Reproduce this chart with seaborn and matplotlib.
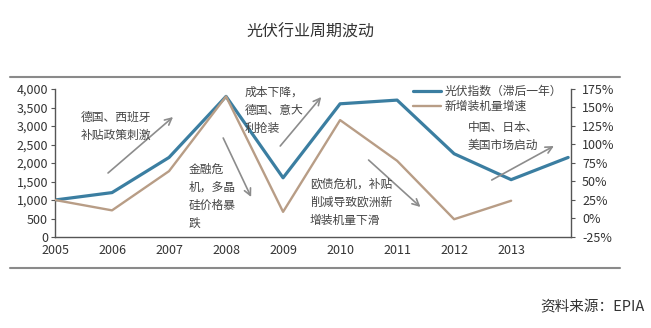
import numpy as np
import pandas as pd
import seaborn as sns
import matplotlib
matplotlib.use("Agg")
import matplotlib.pyplot as plt
from matplotlib.lines import Line2D
from matplotlib.ticker import FuncFormatter

# ---- data ----
years_index = [2005, 2006, 2007, 2008, 2009, 2010, 2011, 2012, 2013, 2014]
pv_index = [1000, 1200, 2150, 3800, 1600, 3600, 3700, 2250, 1550, 2150]
years_growth = [2005, 2006, 2007, 2008, 2009, 2010, 2011, 2012, 2013]
install_growth = [25, 11, 64, 165, 9, 133, 78, -1, 24]
xtick_labels = ["2005", "2006", "2007", "2008", "2009", "2010", "2011", "2012", "2013"]
left_ticks = [0, 500, 1000, 1500, 2000, 2500, 3000, 3500, 4000]
right_ticks = [-25, 0, 25, 50, 75, 100, 125, 150, 175]
label_index = "光伏指数（滞后一年）"
label_growth = "新增装机量增速"
title = "光伏行业周期波动"
source = "资料来源：EPIA"

sns.set_style("white")
plt.rcParams["font.family"] = ["Noto Sans CJK SC", "DejaVu Sans"]

W, H = 651, 328
fig = plt.figure(figsize=(W / 100, H / 100), dpi=100)
fig.patch.set_facecolor("white")

blue = "#3b7ea1"
brown = "#b89d86"
axis_col = "#555555"
txt_col = "#444444"

ax = fig.add_axes([55 / W, 1 - 237 / H, (571 - 55) / W, (237 - 89) / H])
ax2 = ax.twinx()

df1 = pd.DataFrame({"year": years_index, "v": pv_index})
df2 = pd.DataFrame({"year": years_growth, "v": install_growth})
sns.lineplot(data=df1, x="year", y="v", ax=ax, color=blue, lw=2.3, label=label_index, legend=False)
sns.lineplot(data=df2, x="year", y="v", ax=ax2, color=brown, lw=1.7, label=label_growth, legend=False)

ax.set_xlim(2005, 2014.05)
ax.set_ylim(0, 4000)
ax2.set_ylim(-25, 175)
ax.set_xticks(years_growth)
ax.set_xticklabels(xtick_labels)
ax.set_yticks(left_ticks)
ax.yaxis.set_major_formatter(FuncFormatter(lambda v, p: f"{int(v):,}"))
ax2.set_yticks(right_ticks)
ax2.yaxis.set_major_formatter(FuncFormatter(lambda v, p: f"{int(v)}%"))
ax.set_xlabel("")
ax.set_ylabel("")
ax2.set_ylabel("")

for a in (ax, ax2):
    a.spines["top"].set_visible(False)
    for s in ("left", "right", "bottom"):
        a.spines[s].set_color(axis_col)
        a.spines[s].set_linewidth(1.0)
    a.tick_params(colors="#333333", labelsize=9)
ax.spines["right"].set_visible(False)
ax2.spines["left"].set_visible(False)
ax2.spines["bottom"].set_visible(False)
ax.tick_params(axis="y", length=3, width=0.8, color=axis_col, direction="out", pad=2)
ax.tick_params(axis="x", length=0, pad=5)
ax2.tick_params(axis="y", length=3, width=0.8, color=axis_col, direction="out", pad=5)

# annotations
ann_kw = dict(fontsize=8.5, color=txt_col, ha="left", va="top", linespacing=1.5, zorder=5)
ax.text(2005.45, 3420, "德国、西班牙\n补贴政策刺激", **ann_kw)
ax.text(2007.35, 2000, "金融危\n机，多晶\n硅价格暴\n跌", **ann_kw)
ax.text(2008.33, 4080, "成本下降，\n德国、意大\n利抢装", clip_on=False, **ann_kw)
ax.text(2009.47, 1600, "欧债危机，补贴\n削减导致欧洲新\n增装机量下滑", **ann_kw)
ax.text(2012.24, 3140, "中国、日本、\n美国市场启动", **ann_kw)

arrows = [
    ((2005.93, 1730), (2007.07, 3243)),
    ((2007.95, 2676), (2008.44, 1081)),
    ((2008.95, 2459), (2009.67, 3784)),
    ((2010.50, 2081), (2011.41, 811)),
    ((2012.66, 1540), (2013.75, 2459)),
]
for (x0, y0), (x1, y1) in arrows:
    ax.annotate("", xy=(x1, y1), xytext=(x0, y0),
                arrowprops=dict(arrowstyle="->", color="#8c8c8c", lw=1.2,
                                mutation_scale=12, shrinkA=0, shrinkB=0),
                annotation_clip=False, zorder=4)

# legend
handles = [Line2D([0], [0], color=blue, lw=2.3), Line2D([0], [0], color=brown, lw=1.7)]
leg = fig.legend(handles, [label_index, label_growth], loc="upper left",
                 bbox_to_anchor=(408 / W, 1 - 80 / H), frameon=False, fontsize=8.5,
                 handlelength=2.4, handletextpad=0.3, labelspacing=0.2, borderaxespad=0)
for t in leg.get_texts():
    t.set_color(txt_col)

# horizontal rules
fig.add_artist(Line2D([10 / W, 620 / W], [1 - 77 / H] * 2, color="#8a8a8a", lw=1.5))
fig.add_artist(Line2D([10 / W, 620 / W], [1 - 268 / H] * 2, color="#8a8a8a", lw=1.5))

fig.text(310 / W, 1 - 32 / H, title, ha="center", va="center", fontsize=11.5, color="#333333")
fig.text(645 / W, 1 - 307 / H, source, ha="right", va="center", fontsize=10.5, color="#333333")

fig.savefig("out.png", dpi=100, facecolor="white")
